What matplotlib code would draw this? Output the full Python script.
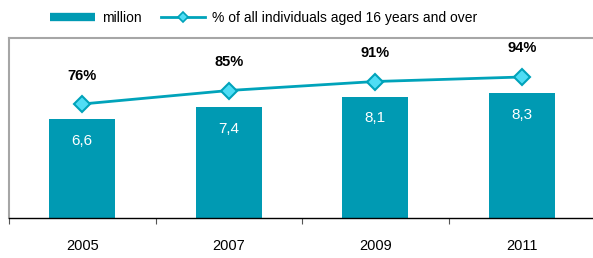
import matplotlib.pyplot as plt
from matplotlib.lines import Line2D
import numpy as np

years = ['2005', '2007', '2009', '2011']
million = [6.6, 7.4, 8.1, 8.3]
million_labels = ['6,6', '7,4', '8,1', '8,3']
share = [76, 85, 91, 94]

bar_color = '#009AB3'
line_color = '#00A3BA'
marker_face = '#4FDDF5'

plt.rcParams['font.family'] = ['Liberation Sans', 'DejaVu Sans']

fig = plt.figure(figsize=(5.93, 2.58), dpi=100)
ax = fig.add_axes([9 / 593, 40 / 258, 586 / 593, 180 / 258])
x = np.arange(len(years))

ax.bar(x, million, width=0.45, color=bar_color, zorder=2)
for xi, v, lab in zip(x, million, million_labels):
    ax.text(xi, v - 1.45, lab, ha='center', va='center', color='white', fontsize=11)

ax.set_xlim(-0.5, len(years) - 0.5)
ax.set_ylim(0, 12)
ax.set_yticks([])
ax.set_xticks(np.arange(-0.5, len(years), 1.0))
ax.set_xticklabels([])
ax.tick_params(axis='x', direction='out', length=4, color='#555555')
for xi, y in zip(x, years):
    ax.text(xi, -1.85, y, ha='center', va='center', fontsize=10.5)

for side in ['left', 'top', 'right']:
    ax.spines[side].set_color('#A6A6A6')
    ax.spines[side].set_linewidth(1.5)
ax.spines['bottom'].set_color('black')
ax.spines['bottom'].set_linewidth(1.0)

ax2 = ax.twinx()
ax2.set_ylim(0, 120)
ax2.set_yticks([])
ax2.plot(x, share, color=line_color, linewidth=2, marker='D', markersize=8,
         markerfacecolor=marker_face, markeredgecolor=line_color, markeredgewidth=1.5,
         zorder=3)
for xi, v in zip(x, share):
    ax2.text(xi, v + 19, f'{v}%', ha='center', va='center', fontsize=10.5, fontweight='bold')
for side in ['left', 'top', 'right', 'bottom']:
    ax2.spines[side].set_visible(False)

bar_handle = Line2D([], [], color=bar_color, lw=6, solid_capstyle='butt')
line_handle = Line2D([], [], color=line_color, lw=2, marker='D', markersize=5,
                     markerfacecolor=marker_face, markeredgecolor=line_color,
                     markeredgewidth=1.2)
fig.legend(handles=[bar_handle, line_handle],
           labels=['million', '% of all individuals aged 16 years and over'],
           loc='center', bbox_to_anchor=(0.445, 0.932), ncol=2, frameon=False,
           fontsize=10, handlelength=3.2, columnspacing=1.4, handletextpad=0.5)

fig.savefig('out.png', dpi=100)
